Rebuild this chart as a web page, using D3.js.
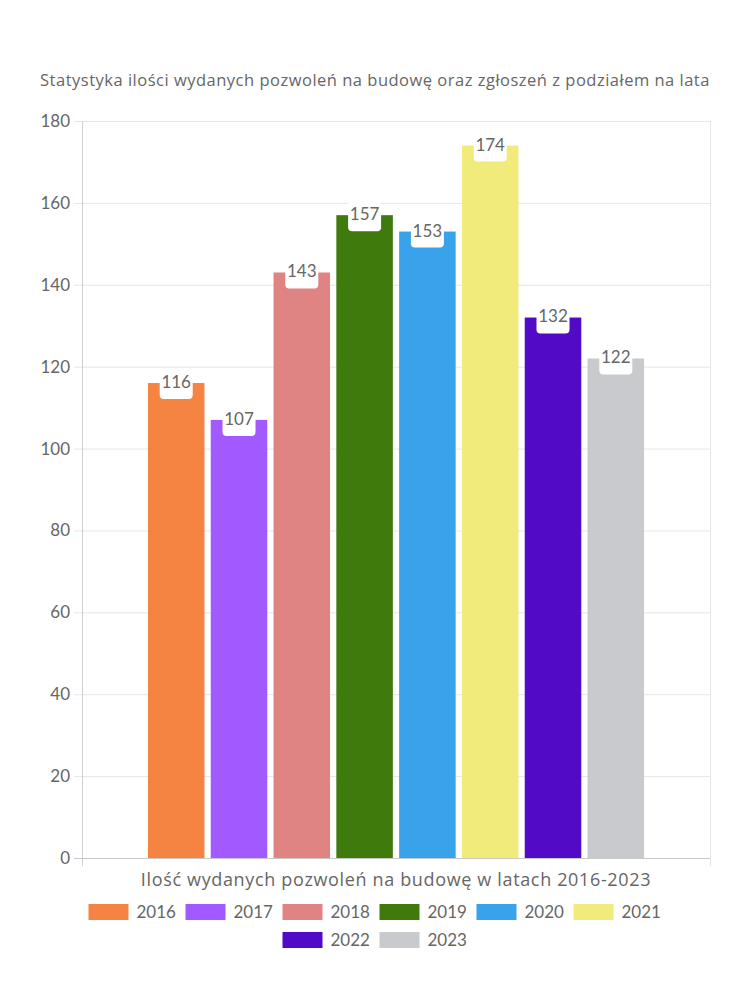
<!DOCTYPE html>
<html>
<head>
<meta charset="utf-8">
<title>Pozwolenia na budowę</title>
<script src="https://d3js.org/d3.v7.min.js"></script>
<style>
  body { margin: 0; background: #fff; }
  svg text { font-family: Lato, "Noto Sans", sans-serif; fill: #666; }
  svg text.ttl { font-family: "Open Sans", Lato, sans-serif; }
</style>
</head>
<body>
<svg id="chart"></svg>
<script>
// data
var years = ["2016", "2017", "2018", "2019", "2020", "2021", "2022", "2023"];
var values = [116, 107, 143, 157, 153, 174, 132, 122];
var colors = ["#f58442", "#a259ff", "#e08383", "#3e7b0c", "#38a2eb", "#f0eb7a", "#520ac6", "#c9cace"];
var yTicks = [0, 20, 40, 60, 80, 100, 120, 140, 160, 180];

var W = 750, H = 1000;
var pLeft = 82, pRight = 710, pTop = 121, pBottom = 858;

var svg = d3.select("#chart").attr("width", W).attr("height", H);

var y = d3.scaleLinear().domain([0, 180]).range([pBottom, pTop]);

// one category, 8 datasets side by side (80% of the width, 90% per bar)
var groupW = (pRight - pLeft) * 0.8;
var x = d3.scaleBand()
    .domain(years)
    .range([pLeft + (pRight - pLeft - groupW) / 2, pLeft + (pRight - pLeft + groupW) / 2])
    .paddingInner(0.1)
    .paddingOuter(0.05);

// title
svg.append("text")
    .attr("class", "ttl")
    .attr("x", W / 2).attr("y", 86)
    .attr("text-anchor", "middle")
    .style("font-size", "16.5px")
    .style("letter-spacing", "0.5px")
    .text("Statystyka ilości wydanych pozwoleń na budowę oraz zgłoszeń z podziałem na lata");

// grid
svg.append("g").selectAll("line")
    .data(yTicks)
  .enter().append("line")
    .attr("x1", pLeft - 8).attr("x2", pRight)
    .attr("y1", function(d) { return y(d) + 0.5; })
    .attr("y2", function(d) { return y(d) + 0.5; })
    .attr("stroke", function(d) { return d == 0 ? "#c8c8c8" : "#e6e6e6"; });

svg.append("line")
    .attr("x1", pLeft + 0.5).attr("x2", pLeft + 0.5)
    .attr("y1", pTop).attr("y2", pBottom + 8)
    .attr("stroke", "#d0d0d0");
svg.append("line")
    .attr("x1", pRight + 0.5).attr("x2", pRight + 0.5)
    .attr("y1", pTop).attr("y2", pBottom + 8)
    .attr("stroke", "#e6e6e6");

// y tick labels
svg.append("g").selectAll("text")
    .data(yTicks)
  .enter().append("text")
    .attr("x", pLeft - 12)
    .attr("y", function(d) { return y(d); })
    .attr("dy", "0.35em")
    .attr("text-anchor", "end")
    .style("font-size", "17px")
    .text(function(d) { return d; });

// bars
svg.append("g").selectAll("rect")
    .data(values)
  .enter().append("rect")
    .attr("x", function(d, i) { return x(years[i]); })
    .attr("y", function(d) { return y(d); })
    .attr("width", x.bandwidth())
    .attr("height", function(d) { return pBottom - y(d); })
    .attr("fill", function(d, i) { return colors[i]; });

// value labels in white rounded boxes
var lab = svg.append("g").selectAll("g")
    .data(values)
  .enter().append("g")
    .attr("transform", function(d, i) {
      return "translate(" + (x(years[i]) + x.bandwidth() / 2) + "," + y(d) + ")";
    });
lab.append("rect")
    .attr("x", -16.5).attr("y", -14)
    .attr("width", 33).attr("height", 30)
    .attr("rx", 4)
    .attr("fill", "#fff");
lab.append("text")
    .attr("y", -1)
    .attr("dy", "0.35em")
    .attr("text-anchor", "middle")
    .style("font-size", "17px")
    .text(function(d) { return d; });

// x axis title
svg.append("text")
    .attr("class", "ttl")
    .attr("x", (pLeft + pRight) / 2).attr("y", 886)
    .attr("text-anchor", "middle")
    .style("font-size", "18px")
    .style("letter-spacing", "0.65px")
    .text("Ilość wydanych pozwoleń na budowę w latach 2016-2023");

// legend, two rows
var rows = [[0, 1, 2, 3, 4, 5], [6, 7]];
var boxW = 40, txtW = 38, gap = 11;
rows.forEach(function(row, r) {
  var total = row.length * (boxW + 8 + txtW) + (row.length - 1) * gap;
  var x0 = W / 2 - total / 2 - 1;
  row.forEach(function(k, j) {
    var gx = x0 + j * (boxW + 8 + txtW + gap);
    var gy = 912 + r * 28;
    svg.append("rect")
      .attr("x", gx).attr("y", gy - 8)
      .attr("width", boxW).attr("height", 16)
      .attr("fill", colors[k]);
    svg.append("text")
      .attr("x", gx + boxW + 8).attr("y", gy)
      .attr("dy", "0.35em")
      .style("font-size", "17px")
      .text(years[k]);
  });
});
</script>
</body>
</html>
